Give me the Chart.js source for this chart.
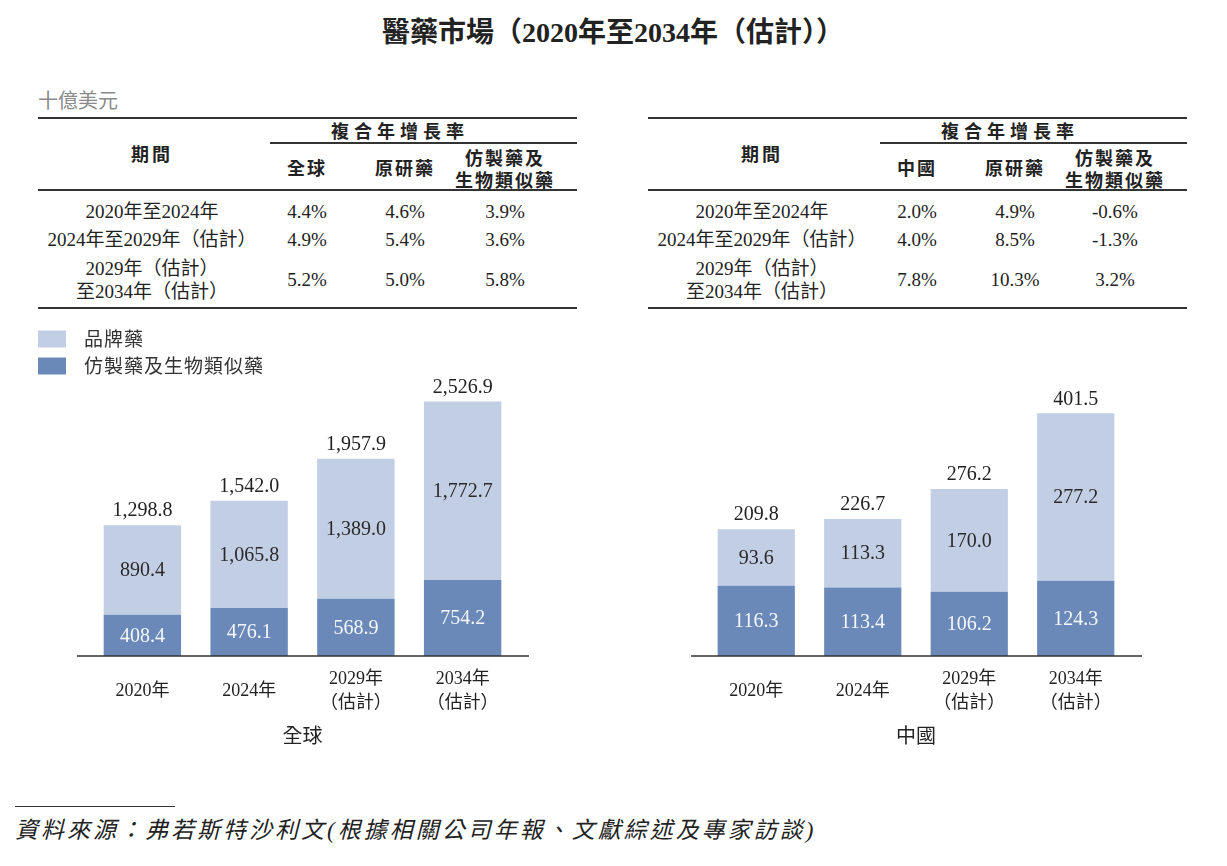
<!DOCTYPE html>
<html>
<head>
<meta charset="utf-8">
<script src="https://cdn.jsdelivr.net/npm/chart.js@4"></script>
<style>
body{margin:0;background:#fff;width:1227px;height:866px;position:relative;overflow:hidden;
  font-family:"Liberation Serif","Noto Sans CJK TC",serif;color:#222}
.t{position:absolute;white-space:nowrap;transform:translate(-50%,-50%);font-size:19px;line-height:1}
.l{position:absolute;white-space:nowrap;transform:translateY(-50%);font-size:19px;line-height:1}
.h{font-family:"Noto Sans CJK TC",sans-serif;font-weight:bold;font-size:18px;letter-spacing:2px}
.ln{position:absolute;background:#333}
canvas{position:absolute}
</style>
</head>
<body>
<canvas id="globalChart" width="614" height="380" style="left:0;top:370px;width:614px;height:380px"></canvas>
<canvas id="chinaChart" width="613" height="380" style="left:614px;top:370px;width:613px;height:380px"></canvas>
<script>
const title = '醫藥市場（2020年至2034年（估計））';
const unitLabel = '十億美元';
const periodHeader = '期間';
const cagrHeader = '複合年增長率';
const periods = [['2020年至2024年'], ['2024年至2029年（估計）'], ['2029年（估計）', '至2034年（估計）']];
const globalCols = [['全球'], ['原研藥'], ['仿製藥及', '生物類似藥']];
const chinaCols = [['中國'], ['原研藥'], ['仿製藥及', '生物類似藥']];
const globalCagr = [['4.4%', '4.6%', '3.9%'], ['4.9%', '5.4%', '3.6%'], ['5.2%', '5.0%', '5.8%']];
const chinaCagr = [['2.0%', '4.9%', '-0.6%'], ['4.0%', '8.5%', '-1.3%'], ['7.8%', '10.3%', '3.2%']];

const years = ['2020年', '2024年', ['2029年', '（估計）'], ['2034年', '（估計）']];
const seriesNames = ['仿製藥及生物類似藥', '品牌藥'];
const globalGeneric = [408.4, 476.1, 568.9, 754.2];
const globalBrand = [890.4, 1065.8, 1389.0, 1772.7];
const globalTotal = [1298.8, 1542.0, 1957.9, 2526.9];
const chinaGeneric = [116.3, 113.4, 106.2, 124.3];
const chinaBrand = [93.6, 113.3, 170.0, 277.2];
const chinaTotal = [209.8, 226.7, 276.2, 401.5];
const sourceNote = '資料來源：弗若斯特沙利文(根據相關公司年報、文獻綜述及專家訪談)';

const darkBlue = '#6a89b8';
const lightBlue = '#c2cee4';
const fontFamily = '"Liberation Serif", "Noto Sans CJK TC", serif';

function el(cls, x, y, html, style){
  const d = document.createElement('div');
  d.className = cls;
  d.style.left = x + 'px';
  d.style.top = y + 'px';
  if (style) d.style.cssText += style;
  d.innerHTML = html;
  document.body.appendChild(d);
  return d;
}
function line(x, y, w, h){
  const d = document.createElement('div');
  d.className = 'ln';
  d.style.cssText = `left:${x}px;top:${y}px;width:${w}px;height:${h}px`;
  document.body.appendChild(d);
}

// title + unit
el('t', 613, 33, title, 'font-weight:bold;font-size:28px');
el('l', 38, 101, unitLabel, 'color:#8a8a8a;font-size:20px');

function drawTable(x0, cols, values){
  const w = 539;
  const periodX = x0 + 114, colX = [x0 + 269, x0 + 367, x0 + 467];
  line(x0, 117, w, 2);
  line(x0 + 232, 142, w - 232, 1.5);
  line(x0, 189, w, 2);
  line(x0, 307, w, 2);
  el('t h', periodX, 153, periodHeader, 'letter-spacing:3px');
  el('t h', x0 + 362, 130, cagrHeader, 'letter-spacing:5px');
  cols.forEach((c, i) => {
    if (c.length === 1) el('t h', colX[i], 167, c[0]);
    else { el('t h', colX[i], 157, c[0]); el('t h', colX[i], 179, c[1]); }
  });
  const rowY = [211, 239, 279];
  periods.forEach((p, r) => {
    if (p.length === 1) el('t', periodX, rowY[r], p[0]);
    else { el('t', periodX, 268, p[0]); el('t', periodX, 291, p[1]); }
    values[r].forEach((v, i) => el('t', colX[i], rowY[r], v));
  });
}
drawTable(38, globalCols, globalCagr);
drawTable(648, chinaCols, chinaCagr);

// legend
el('l', 38, 339, '', `width:28px;height:17px;background:${lightBlue}`);
el('l', 38, 366, '', `width:28px;height:17px;background:${darkBlue}`);
el('l', 84, 339, seriesNames[1], 'color:#333;letter-spacing:1px');
el('l', 84, 366, seriesNames[0], 'color:#333;letter-spacing:1px');

// source
line(15, 806, 160, 1);
el('l', 15, 830, sourceNote, 'font-style:italic;font-size:23px;letter-spacing:3px;color:#222');

function fmt(v){
  return v.toLocaleString('en-US', {minimumFractionDigits: 1, maximumFractionDigits: 1});
}

const valueLabels = {
  id: 'valueLabels',
  afterDatasetsDraw(chart, args, opts){
    const ctx = chart.ctx;
    ctx.save();
    ctx.font = '20px "Liberation Serif"';
    ctx.textAlign = 'center';
    ctx.textBaseline = 'middle';
    chart.data.datasets.forEach((ds, i) => {
      chart.getDatasetMeta(i).data.forEach((bar, j) => {
        ctx.fillStyle = i === 0 ? '#f5f7fb' : '#2a2a2a';
        ctx.fillText(fmt(ds.data[j]), bar.x, (bar.y + bar.base) / 2 + 1);
      });
    });
    chart.getDatasetMeta(1).data.forEach((bar, j) => {
      ctx.fillStyle = '#222';
      ctx.fillText(fmt(opts.totals[j]), bar.x, bar.y - 14);
    });
    const a = chart.chartArea;
    ctx.strokeStyle = '#333';
    ctx.lineWidth = 1.5;
    ctx.beginPath();
    ctx.moveTo(a.left - 12, a.bottom);
    ctx.lineTo(a.right + 13, a.bottom);
    ctx.stroke();
    ctx.restore();
  }
};

function makeChart(id, generic, brand, totals, yMax, axisTitle){
  new Chart(document.getElementById(id), {
    type: 'bar',
    data: {
      labels: years,
      datasets: [
        {label: seriesNames[0], data: generic, backgroundColor: darkBlue},
        {label: seriesNames[1], data: brand, backgroundColor: lightBlue}
      ]
    },
    options: {
      responsive: false,
      animation: false,
      categoryPercentage: 1,
      barPercentage: 0.725,
      layout: {padding: {top: 14, left: 89, right: 98, bottom: 0}},
      plugins: {
        legend: {display: false},
        tooltip: {enabled: false},
        valueLabels: {totals: totals}
      },
      scales: {
        x: {
          stacked: true,
          grid: {display: false, drawTicks: false},
          border: {display: false},
          ticks: {color: '#222', padding: 23, crossAlign: 'center', font: {family: fontFamily, size: 18, lineHeight: 1.35}},
          title: {display: true, text: axisTitle, color: '#222', padding: 0, font: {family: fontFamily, size: 20}},
          afterFit(s){ s.height = 94; }
        },
        y: {stacked: true, display: false, min: 0, max: yMax}
      }
    },
    plugins: [valueLabels]
  });
}

makeChart('globalChart', globalGeneric, globalBrand, globalTotal, 2700, '全球');
makeChart('chinaChart', chinaGeneric, chinaBrand, chinaTotal, 450, '中國');
</script>
</body>
</html>
